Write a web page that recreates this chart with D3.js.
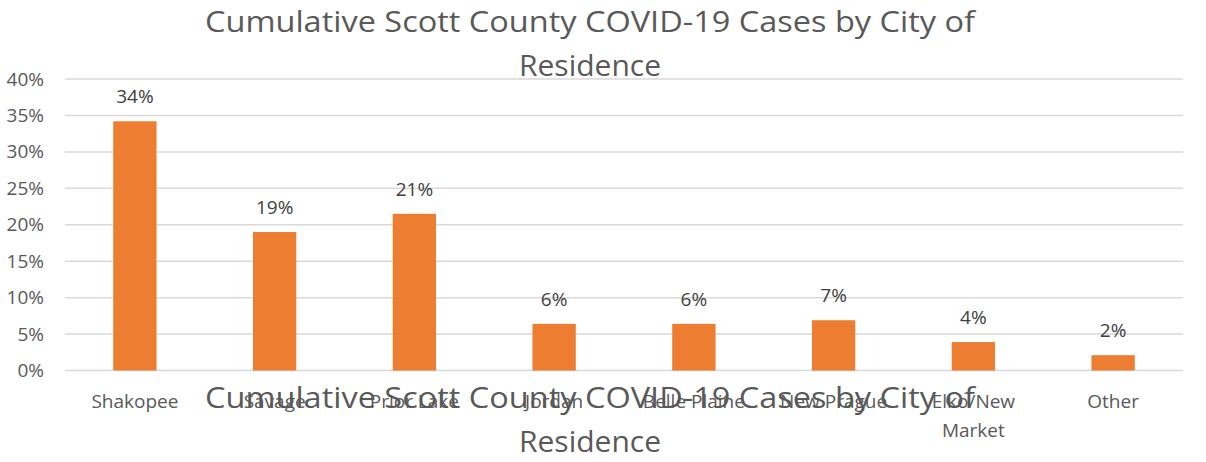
<html>
<head>
<meta charset="utf-8">
<title>Cumulative Scott County COVID-19 Cases by City of Residence</title>
<style>
  body { margin: 0; background: #fff; }
  text { font-family: "Open Sans", "Noto Sans", sans-serif; }
</style>
</head>
<body>
<script src="https://cdn.jsdelivr.net/npm/d3@7/dist/d3.min.js"></script>
<script>

// data
var cities = ["Shakopee", "Savage", "Prior Lake", "Jordan", "Belle Plaine", "New Prague", "Elko/New Market", "Other"];
var shares = [0.342, 0.190, 0.215, 0.064, 0.064, 0.069, 0.039, 0.021];
var shareLabels = ["34%", "19%", "21%", "6%", "6%", "7%", "4%", "2%"];
var yTicks = [0, 0.05, 0.10, 0.15, 0.20, 0.25, 0.30, 0.35, 0.40];
var titleLines = ["Cumulative Scott County COVID-19 Cases by City of", "Residence"];

var width = 1206;
var height = 462;
var margin = { top: 79, right: 23, bottom: 91.5, left: 65 };

var svg = d3.select("body")
    .append("svg")
    .attr("width", width)
    .attr("height", height);

var x = d3.scaleBand()
    .domain(cities)
    .range([margin.left, width - margin.right])
    .paddingInner(0.69)
    .paddingOuter(0.345);

var y = d3.scaleLinear()
    .domain([0, 0.4])
    .range([height - margin.bottom, margin.top]);

// gridlines
svg.append("g")
    .selectAll("line")
    .data(yTicks)
    .enter().append("line")
    .attr("x1", margin.left)
    .attr("x2", width - margin.right)
    .attr("y1", function(d){ return y(d); })
    .attr("y2", function(d){ return y(d); })
    .attr("stroke", "#d9d9d9")
    .attr("stroke-width", 1.5);

// y axis (labels only)
var yAxis = svg.append("g")
    .attr("transform", "translate(" + 44 + ",0)")
    .call(d3.axisLeft(y).tickValues(yTicks).tickSize(0).tickPadding(0).tickFormat(d3.format(".0%")));
yAxis.select(".domain").remove();
yAxis.selectAll("text")
    .attr("fill", "#595959")
    .attr("font-size", "19px")
    .style("font-family", "'Open Sans', sans-serif");

// bars
svg.append("g")
    .selectAll("rect")
    .data(shares)
    .enter().append("rect")
    .attr("x", function(d, i){ return x(cities[i]); })
    .attr("y", function(d){ return y(d); })
    .attr("width", x.bandwidth())
    .attr("height", function(d){ return y(0) - y(d); })
    .attr("fill", "#ed7d31");

// value labels
svg.append("g")
    .selectAll("text")
    .data(shares)
    .enter().append("text")
    .attr("x", function(d, i){ return x(cities[i]) + x.bandwidth() / 2; })
    .attr("y", function(d){ return y(d) - 18; })
    .attr("text-anchor", "middle")
    .attr("fill", "#404040")
    .attr("font-size", "19px")
    .text(function(d, i){ return shareLabels[i]; });

// x axis (category labels)
var xAxis = svg.append("g")
    .attr("transform", "translate(0," + y(0) + ")")
    .call(d3.axisBottom(x).tickSize(0).tickPadding(0));
xAxis.select(".domain").remove();
xAxis.selectAll("text")
    .attr("fill", "#595959")
    .attr("font-size", "19px")
    .attr("dy", null)
    .attr("y", 37.5)
    .style("font-family", "'Open Sans', sans-serif")
    .each(function(d){
        // wrap labels wider than the slot
        var t = d3.select(this);
        if (this.getComputedTextLength() < x.step() - 10) return;
        var words = d.split(" ");
        t.text(null);
        words.forEach(function(w, k){
            t.append("tspan")
                .attr("x", 0)
                .attr("dy", k === 0 ? 0 : 29)
                .text(w);
        });
    });

// title, and the same text again as the axis title under the labels
function drawTitle(y0) {
    titleLines.forEach(function(line, k){
        var t = svg.append("text")
            .attr("x", 590)
            .attr("y", y0 + k * 44)
            .attr("text-anchor", "middle")
            .attr("fill", "#595959")
            .attr("font-size", "30px")
            .text(line);
        if (k === 0) t.attr("textLength", 770).attr("lengthAdjust", "spacingAndGlyphs");
    });
}
drawTitle(32);
drawTitle(408);

</script>
</body>
</html>
